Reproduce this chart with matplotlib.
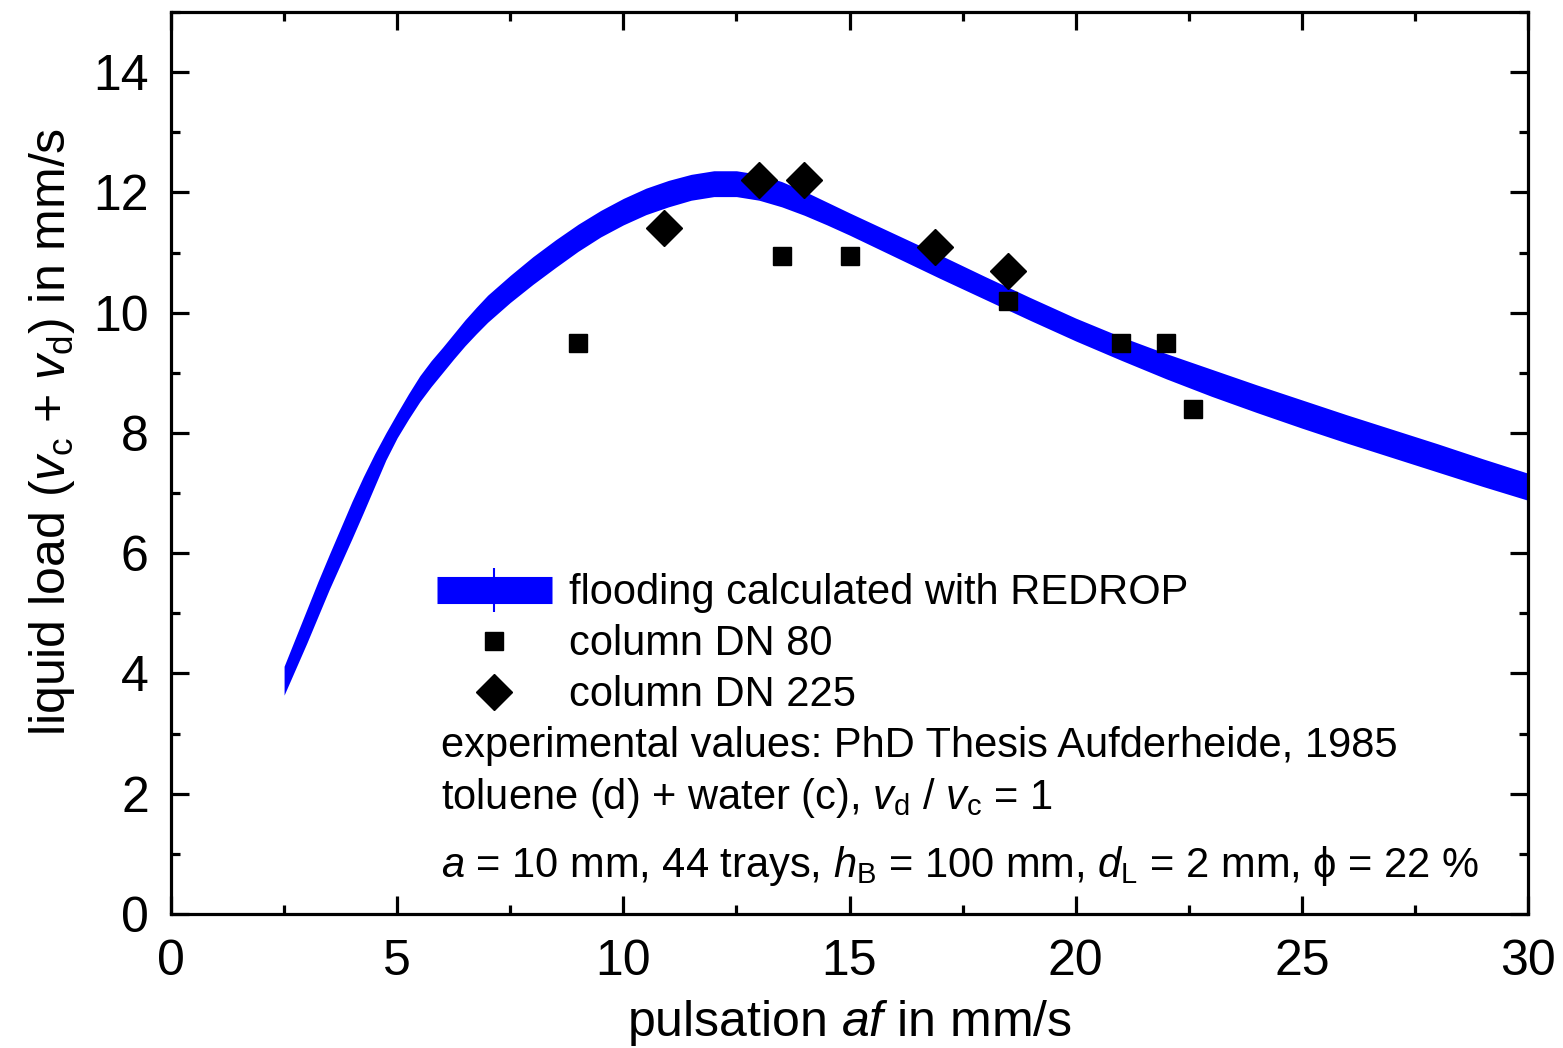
import matplotlib
matplotlib.use('Agg')
import matplotlib.pyplot as plt
from matplotlib.lines import Line2D
from matplotlib.legend_handler import HandlerTuple
from matplotlib.ticker import MultipleLocator

plt.rcParams['font.family'] = ['Liberation Sans', 'DejaVu Sans']
plt.rcParams['mathtext.fontset'] = 'custom'
plt.rcParams['mathtext.rm'] = 'Liberation Sans'
plt.rcParams['mathtext.it'] = 'Liberation Sans:italic'
plt.rcParams['mathtext.bf'] = 'Liberation Sans:bold'

# ---- data ----
band_x = [2.5, 2.75, 3.0, 3.25, 3.5, 3.75, 4.0, 4.25, 4.5, 4.75, 5.0, 5.25, 5.5, 5.75,
          6.0, 6.25, 6.5, 6.75, 7.0, 7.5, 8.0, 8.5, 9.0, 9.5, 10.0, 10.5, 11.0, 11.5,
          12.0, 12.5, 13.0, 13.5, 14.0, 14.5, 15.0, 16.0, 17.0, 18.0, 19.0, 20.0,
          21.0, 22.0, 23.0, 24.0, 25.0, 26.0, 27.0, 28.0, 29.0, 30.0]
band_upper = [4.12, 4.59, 5.06, 5.53, 5.98, 6.42, 6.86, 7.27, 7.65, 8.00, 8.33, 8.65,
              8.95, 9.20, 9.42, 9.65, 9.88, 10.09, 10.29, 10.62, 10.93, 11.21, 11.47,
              11.70, 11.90, 12.07, 12.20, 12.30, 12.36, 12.36, 12.30, 12.18, 12.02,
              11.84, 11.66, 11.31, 10.96, 10.60, 10.25, 9.91, 9.60, 9.32, 9.06, 8.80,
              8.55, 8.30, 8.06, 7.82, 7.57, 7.33]
band_lower = [3.64, 4.07, 4.50, 4.95, 5.40, 5.82, 6.24, 6.67, 7.11, 7.55, 7.92, 8.23,
              8.52, 8.77, 9.00, 9.23, 9.45, 9.65, 9.84, 10.17, 10.47, 10.75, 11.02,
              11.26, 11.46, 11.63, 11.76, 11.87, 11.93, 11.93, 11.87, 11.76, 11.62,
              11.46, 11.29, 10.93, 10.57, 10.22, 9.87, 9.53, 9.21, 8.90, 8.61, 8.34,
              8.08, 7.83, 7.59, 7.35, 7.11, 6.88]

dn80_x = [9.0, 13.5, 15.0, 18.5, 21.0, 22.0, 22.6]
dn80_y = [9.5, 10.95, 10.95, 10.2, 9.5, 9.5, 8.4]

dn225_x = [10.9, 13.0, 14.0, 16.9, 18.5]
dn225_y = [11.4, 12.2, 12.2, 11.1, 10.7]

legend_labels = ['flooding calculated with REDROP', 'column DN 80', 'column DN 225']
note_lines = ['experimental values: PhD Thesis Aufderheide, 1985',
              r'toluene (d) + water (c), $v_\mathrm{d}$ / $v_\mathrm{c}$ = 1',
              r'$a$ = 10 mm, 44 trays, $h_\mathrm{B}$ = 100 mm, $d_\mathrm{L}$ = 2 mm, ϕ = 22 %']

BLUE = '#0000ff'

fig = plt.figure(figsize=(15.63, 10.48), dpi=100)
ax = fig.add_axes([171/1563, 134/1048, 1357/1563, 902/1048])

ax.fill_between(band_x, band_lower, band_upper, color=BLUE, lw=0, zorder=2)
ax.plot(dn80_x, dn80_y, ls='none', marker='s', ms=13, color='black', zorder=3)
ax.plot(dn225_x, dn225_y, ls='none', marker='D', ms=18, color='black', zorder=3)

ax.set_xlim(0, 30)
ax.set_ylim(0, 15)
ax.xaxis.set_major_locator(MultipleLocator(5))
ax.xaxis.set_minor_locator(MultipleLocator(2.5))
ax.yaxis.set_major_locator(MultipleLocator(2))
ax.yaxis.set_minor_locator(MultipleLocator(1))
ax.set_yticks([0, 2, 4, 6, 8, 10, 12, 14])

for s in ax.spines.values():
    s.set_linewidth(2.3)
ax.tick_params(which='both', direction='in', top=True, right=True, width=2.3)
ax.tick_params(which='major', length=13, labelsize=36)
ax.tick_params(axis='x', which='major', pad=18)
ax.tick_params(axis='y', which='major', pad=16)
ax.tick_params(which='minor', length=6.5)

ax.set_xlabel(r'pulsation $af$ in mm/s', fontsize=36)
ax.set_ylabel(r'liquid load ($v_\mathrm{c}$ + $v_\mathrm{d}$) in mm/s', fontsize=36)
ax.xaxis.set_label_coords(0.5, -0.093)
ax.yaxis.set_label_coords(-0.069, 0.535)

band_handle = (Line2D([], [], color=BLUE, lw=19.5, solid_capstyle='butt'),
               Line2D([], [], color=BLUE, ls='none', marker='|', ms=32, mew=1.5))
sq_handle = Line2D([], [], ls='none', marker='s', ms=13, color='black')
di_handle = Line2D([], [], ls='none', marker='D', ms=18, color='black')
ax.legend([band_handle, sq_handle, di_handle], legend_labels,
          handler_map={tuple: HandlerTuple(ndivide=1, pad=0)},
          loc='center left', bbox_to_anchor=(0.196, 0.299), frameon=False,
          fontsize=30, handlelength=2.76, handletextpad=0.41, labelspacing=0.26,
          borderpad=0, borderaxespad=0)

ys = [0.174, 0.1164, 0.041]
for txt, yv in zip(note_lines, ys):
    ax.text(0.199, yv, txt, transform=ax.transAxes, fontsize=30, va='baseline', ha='left')

fig.savefig('out.png', dpi=100)
